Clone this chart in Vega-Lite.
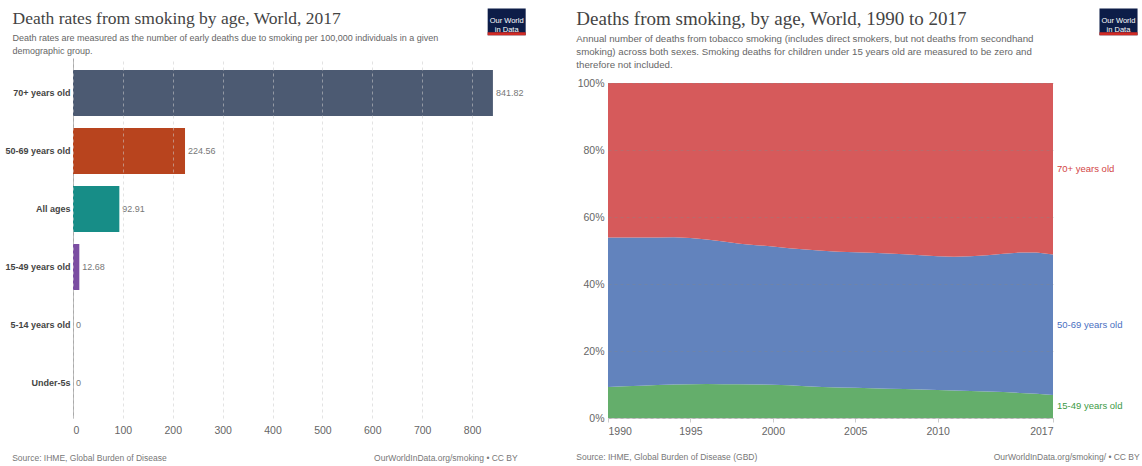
{
  "$schema": "https://vega.github.io/schema/vega-lite/v6.json",
  "background": "white",
  "padding": {"left": 4, "top": 8, "right": 0, "bottom": 0},
  "config": {
    "font": "Liberation Sans",
    "view": {"stroke": null}
  },
  "datasets": {
    "rates": [
      {"age": "70+ years old", "rate": 841.82},
      {"age": "50-69 years old", "rate": 224.56},
      {"age": "All ages", "rate": 92.91},
      {"age": "15-49 years old", "rate": 12.68},
      {"age": "5-14 years old", "rate": 0},
      {"age": "Under-5s", "rate": 0}
    ],
    "deaths": [
      {"year": 1990, "group": "15-49 years old", "share": 9.25}, {"year": 1990, "group": "50-69 years old", "share": 44.60}, {"year": 1990, "group": "70+ years old", "share": 46.15},
      {"year": 1991, "group": "15-49 years old", "share": 9.45}, {"year": 1991, "group": "50-69 years old", "share": 44.40}, {"year": 1991, "group": "70+ years old", "share": 46.15},
      {"year": 1992, "group": "15-49 years old", "share": 9.66}, {"year": 1992, "group": "50-69 years old", "share": 44.19}, {"year": 1992, "group": "70+ years old", "share": 46.15},
      {"year": 1993, "group": "15-49 years old", "share": 9.85}, {"year": 1993, "group": "50-69 years old", "share": 44.05}, {"year": 1993, "group": "70+ years old", "share": 46.10},
      {"year": 1994, "group": "15-49 years old", "share": 9.98}, {"year": 1994, "group": "50-69 years old", "share": 43.99}, {"year": 1994, "group": "70+ years old", "share": 46.03},
      {"year": 1995, "group": "15-49 years old", "share": 10.06}, {"year": 1995, "group": "50-69 years old", "share": 43.64}, {"year": 1995, "group": "70+ years old", "share": 46.30},
      {"year": 1996, "group": "15-49 years old", "share": 10.15}, {"year": 1996, "group": "50-69 years old", "share": 43.15}, {"year": 1996, "group": "70+ years old", "share": 46.70},
      {"year": 1997, "group": "15-49 years old", "share": 10.10}, {"year": 1997, "group": "50-69 years old", "share": 42.60}, {"year": 1997, "group": "70+ years old", "share": 47.30},
      {"year": 1998, "group": "15-49 years old", "share": 10.06}, {"year": 1998, "group": "50-69 years old", "share": 41.94}, {"year": 1998, "group": "70+ years old", "share": 48.00},
      {"year": 1999, "group": "15-49 years old", "share": 10.00}, {"year": 1999, "group": "50-69 years old", "share": 41.60}, {"year": 1999, "group": "70+ years old", "share": 48.40},
      {"year": 2000, "group": "15-49 years old", "share": 9.96}, {"year": 2000, "group": "50-69 years old", "share": 41.24}, {"year": 2000, "group": "70+ years old", "share": 48.80},
      {"year": 2001, "group": "15-49 years old", "share": 9.80}, {"year": 2001, "group": "50-69 years old", "share": 40.90}, {"year": 2001, "group": "70+ years old", "share": 49.30},
      {"year": 2002, "group": "15-49 years old", "share": 9.46}, {"year": 2002, "group": "50-69 years old", "share": 40.84}, {"year": 2002, "group": "70+ years old", "share": 49.70},
      {"year": 2003, "group": "15-49 years old", "share": 9.25}, {"year": 2003, "group": "50-69 years old", "share": 40.65}, {"year": 2003, "group": "70+ years old", "share": 50.10},
      {"year": 2004, "group": "15-49 years old", "share": 9.07}, {"year": 2004, "group": "50-69 years old", "share": 40.53}, {"year": 2004, "group": "70+ years old", "share": 50.40},
      {"year": 2005, "group": "15-49 years old", "share": 9.00}, {"year": 2005, "group": "50-69 years old", "share": 40.45}, {"year": 2005, "group": "70+ years old", "share": 50.55},
      {"year": 2006, "group": "15-49 years old", "share": 8.87}, {"year": 2006, "group": "50-69 years old", "share": 40.43}, {"year": 2006, "group": "70+ years old", "share": 50.70},
      {"year": 2007, "group": "15-49 years old", "share": 8.76}, {"year": 2007, "group": "50-69 years old", "share": 40.34}, {"year": 2007, "group": "70+ years old", "share": 50.90},
      {"year": 2008, "group": "15-49 years old", "share": 8.66}, {"year": 2008, "group": "50-69 years old", "share": 40.24}, {"year": 2008, "group": "70+ years old", "share": 51.10},
      {"year": 2009, "group": "15-49 years old", "share": 8.50}, {"year": 2009, "group": "50-69 years old", "share": 40.10}, {"year": 2009, "group": "70+ years old", "share": 51.40},
      {"year": 2010, "group": "15-49 years old", "share": 8.36}, {"year": 2010, "group": "50-69 years old", "share": 39.94}, {"year": 2010, "group": "70+ years old", "share": 51.70},
      {"year": 2011, "group": "15-49 years old", "share": 8.20}, {"year": 2011, "group": "50-69 years old", "share": 39.90}, {"year": 2011, "group": "70+ years old", "share": 51.90},
      {"year": 2012, "group": "15-49 years old", "share": 8.06}, {"year": 2012, "group": "50-69 years old", "share": 40.24}, {"year": 2012, "group": "70+ years old", "share": 51.70},
      {"year": 2013, "group": "15-49 years old", "share": 7.90}, {"year": 2013, "group": "50-69 years old", "share": 40.70}, {"year": 2013, "group": "70+ years old", "share": 51.40},
      {"year": 2014, "group": "15-49 years old", "share": 7.76}, {"year": 2014, "group": "50-69 years old", "share": 41.24}, {"year": 2014, "group": "70+ years old", "share": 51.00},
      {"year": 2015, "group": "15-49 years old", "share": 7.50}, {"year": 2015, "group": "50-69 years old", "share": 41.90}, {"year": 2015, "group": "70+ years old", "share": 50.60},
      {"year": 2016, "group": "15-49 years old", "share": 7.27}, {"year": 2016, "group": "50-69 years old", "share": 42.13}, {"year": 2016, "group": "70+ years old", "share": 50.60},
      {"year": 2017, "group": "15-49 years old", "share": 6.87}, {"year": 2017, "group": "50-69 years old", "share": 41.93}, {"year": 2017, "group": "70+ years old", "share": 51.20}
    ]
  },
  "spacing": 111,
  "bounds": "flush",
  "resolve": {"scale": {"color": "independent"}},
  "hconcat": [
    {
      "width": 424,
      "height": 360,
      "title": {
        "text": "Death rates from smoking by age, World, 2017",
        "subtitle": [
          "Death rates are measured as the number of early deaths due to smoking per 100,000 individuals in a given",
          "demographic group."
        ],
        "anchor": "start",
        "frame": "group",
        "dx": -60.5,
        "font": "Liberation Serif",
        "fontSize": 17.5,
        "fontWeight": "normal",
        "color": "#444444",
        "subtitleFont": "Liberation Sans",
        "subtitleFontSize": 9,
        "subtitleColor": "#666666",
        "subtitleLineHeight": 13,
        "subtitlePadding": 6,
        "offset": -47
      },
      "resolve": {"scale": {"y": "independent"}},
      "layer": [
        {
          "data": {"name": "rates"},
          "encoding": {
            "y": {
              "field": "age",
              "type": "nominal",
              "sort": ["70+ years old", "50-69 years old", "All ages", "15-49 years old", "5-14 years old", "Under-5s"],
              "scale": {"paddingInner": 0.207, "paddingOuter": 0.207},
              "axis": {
                "title": null,
                "domain": true,
                "domainColor": "#aaaaaa",
                "ticks": false,
                "labelPadding": 3,
                "labelFontWeight": "bold",
                "labelFontSize": 9,
                "labelColor": "#444444"
              }
            },
            "x": {
              "field": "rate",
              "type": "quantitative",
              "scale": {"domain": [0, 850], "nice": false},
              "axis": {
                "title": null,
                "values": [0, 100, 200, 300, 400, 500, 600, 700, 800],
                "grid": true,
                "gridDash": [3, 3],
                "gridColor": "#cccccc",
                "gridOpacity": 0.55,
                "domain": false,
                "ticks": false,
                "labelPadding": 7,
                "labelFontSize": 10.5,
                "labelColor": "#666666",
                "zindex": 1
              }
            }
          },
          "layer": [
            {
              "mark": {"type": "bar"},
              "encoding": {
                "color": {
                  "field": "age",
                  "type": "nominal",
                  "scale": {
                    "domain": ["70+ years old", "50-69 years old", "All ages", "15-49 years old", "5-14 years old", "Under-5s"],
                    "range": ["#4c5a72", "#b8441e", "#178d87", "#7b4ea2", "#c05917", "#58ac8c"]
                  },
                  "legend": null
                }
              }
            },
            {
              "mark": {"type": "text", "align": "left", "baseline": "middle", "dx": 3, "fontSize": 9, "color": "#777777"},
              "encoding": {
                "text": {"field": "rate", "type": "quantitative", "format": ".2~f"}
              }
            }
          ]
        },
        {
          "data": {"values": [{}]},
          "layer": [
            {
              "mark": {"type": "rect", "color": "#0d1d48"},
              "encoding": {
                "x": {"datum": 831.3, "type": "quantitative"},
                "x2": {"datum": 907.5},
                "y": {"datum": 1.1372, "type": "quantitative", "scale": {"domain": [0, 1], "nice": false}, "axis": null},
                "y2": {"datum": 1.0631}
              }
            },
            {
              "mark": {"type": "rect", "color": "#cf2a24"},
              "encoding": {
                "x": {"datum": 831.3, "type": "quantitative"},
                "x2": {"datum": 907.5},
                "y": {"datum": 1.0714, "type": "quantitative", "scale": {"domain": [0, 1], "nice": false}, "axis": null},
                "y2": {"datum": 1.0631}
              }
            },
            {
              "mark": {"type": "text", "align": "center", "baseline": "middle", "fontSize": 7.5, "lineHeight": 9, "color": "white"},
              "encoding": {
                "x": {"datum": 869.4, "type": "quantitative"},
                "y": {"datum": 1.1019, "type": "quantitative", "scale": {"domain": [0, 1], "nice": false}, "axis": null},
                "text": {"value": ["Our World", "in Data"]}
              }
            },
            {
              "mark": {"type": "text", "align": "left", "baseline": "middle", "fontSize": 8.5, "color": "#777777"},
              "encoding": {
                "x": {"datum": -121.9, "type": "quantitative"},
                "y": {"datum": -0.1119, "type": "quantitative", "scale": {"domain": [0, 1], "nice": false}, "axis": null},
                "text": {"value": "Source: IHME, Global Burden of Disease"}
              }
            },
            {
              "mark": {"type": "text", "align": "right", "baseline": "middle", "fontSize": 8.5, "color": "#777777"},
              "encoding": {
                "x": {"datum": 891.5, "type": "quantitative"},
                "y": {"datum": -0.1119, "type": "quantitative", "scale": {"domain": [0, 1], "nice": false}, "axis": null},
                "text": {"value": "OurWorldInData.org/smoking • CC BY"}
              }
            }
          ]
        }
      ]
    },
    {
      "width": 445,
      "height": 360,
      "title": {
        "text": "Deaths from smoking, by age, World, 1990 to 2017",
        "subtitle": [
          "Annual number of deaths from tobacco smoking (includes direct smokers, but not deaths from secondhand",
          "smoking) across both sexes. Smoking deaths for children under 15 years old are measured to be zero and",
          "therefore not included."
        ],
        "anchor": "start",
        "frame": "group",
        "dx": -31.7,
        "font": "Liberation Serif",
        "fontSize": 19,
        "fontWeight": "normal",
        "color": "#444444",
        "subtitleFont": "Liberation Sans",
        "subtitleFontSize": 9.7,
        "subtitleColor": "#666666",
        "subtitleLineHeight": 13,
        "subtitlePadding": 5,
        "offset": -61
      },
      "resolve": {"scale": {"color": "independent"}},
      "layer": [
        {
          "data": {"name": "deaths"},
          "mark": {"type": "area"},
          "encoding": {
            "x": {
              "field": "year",
              "type": "quantitative",
              "scale": {"domain": [1990, 2017], "nice": false, "zero": false},
              "axis": {
                "title": null,
                "values": [1990, 1995, 2000, 2005, 2010, 2017],
                "format": "d",
                "labelFlush": true,
                "grid": false,
                "domainColor": "#cccccc",
                "tickColor": "#cccccc",
                "tickSize": 4,
                "labelPadding": 4,
                "labelFontSize": 10.5,
                "labelColor": "#666666"
              }
            },
            "y": {
              "field": "share",
              "type": "quantitative",
              "stack": "normalize",
              "scale": {"domain": [0, 1.07463], "nice": false},
              "axis": {
                "title": null,
                "values": [0, 0.2, 0.4, 0.6, 0.8, 1],
                "format": ".0%",
                "grid": true,
                "gridDash": [3, 3],
                "gridColor": "#888888",
                "gridOpacity": 0.35,
                "domain": false,
                "ticks": false,
                "labelPadding": 4,
                "labelFontSize": 10.5,
                "labelColor": "#666666",
                "zindex": 1
              }
            },
            "color": {
              "field": "group",
              "type": "nominal",
              "scale": {
                "domain": ["15-49 years old", "50-69 years old", "70+ years old"],
                "range": ["#64ae6b", "#6283bd", "#d65a5b"]
              },
              "legend": null
            },
            "order": {"field": "group", "type": "ordinal", "sort": "ascending"}
          }
        },
        {
          "data": {"name": "deaths"},
          "transform": [
            {"filter": "datum.year === 2017"},
            {
              "stack": "share",
              "groupby": ["year"],
              "sort": [{"field": "group", "order": "ascending"}],
              "offset": "normalize",
              "as": ["y0", "y1"]
            },
            {"calculate": "(datum.y0 + datum.y1) / 2", "as": "mid"}
          ],
          "mark": {"type": "text", "align": "left", "baseline": "middle", "dx": 4, "fontSize": 9.5},
          "encoding": {
            "x": {"field": "year", "type": "quantitative"},
            "y": {"field": "mid", "type": "quantitative"},
            "text": {"field": "group"},
            "color": {
              "field": "group",
              "type": "nominal",
              "scale": {
                "domain": ["15-49 years old", "50-69 years old", "70+ years old"],
                "range": ["#3d9a46", "#4a6fbf", "#d24545"]
              },
              "legend": null
            }
          }
        },
        {
          "data": {"values": [{}]},
          "layer": [
            {
              "mark": {"type": "rect", "color": "#0d1d48"},
              "encoding": {
                "x": {"datum": 2019.82, "type": "quantitative"},
                "x2": {"datum": 2022.13},
                "y": {"datum": 1.2221, "type": "quantitative"},
                "y2": {"datum": 1.1424}
              }
            },
            {
              "mark": {"type": "rect", "color": "#cf2a24"},
              "encoding": {
                "x": {"datum": 2019.82, "type": "quantitative"},
                "x2": {"datum": 2022.13},
                "y": {"datum": 1.1513, "type": "quantitative"},
                "y2": {"datum": 1.1424}
              }
            },
            {
              "mark": {"type": "text", "align": "center", "baseline": "middle", "fontSize": 7.5, "lineHeight": 9, "color": "white"},
              "encoding": {
                "x": {"datum": 2020.97, "type": "quantitative"},
                "y": {"datum": 1.1842, "type": "quantitative"},
                "text": {"value": ["Our World", "in Data"]}
              }
            },
            {
              "mark": {"type": "text", "align": "left", "baseline": "middle", "fontSize": 8.5, "color": "#777777"},
              "encoding": {
                "x": {"datum": 1988.08, "type": "quantitative"},
                "y": {"datum": -0.1158, "type": "quantitative"},
                "text": {"value": "Source: IHME, Global Burden of Disease (GBD)"}
              }
            },
            {
              "mark": {"type": "text", "align": "right", "baseline": "middle", "fontSize": 8.5, "color": "#777777"},
              "encoding": {
                "x": {"datum": 2022.26, "type": "quantitative"},
                "y": {"datum": -0.1158, "type": "quantitative"},
                "text": {"value": "OurWorldInData.org/smoking/ • CC BY"}
              }
            }
          ]
        }
      ]
    }
  ]
}
